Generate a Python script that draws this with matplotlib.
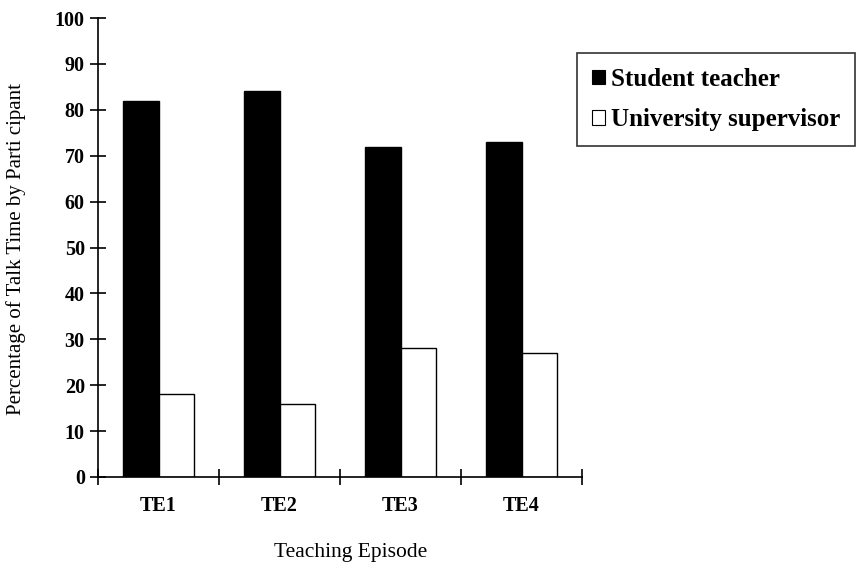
import matplotlib
matplotlib.use("Agg")
import matplotlib.pyplot as plt
from matplotlib.patches import Patch
import numpy as np

categories = ["TE1", "TE2", "TE3", "TE4"]
student_teacher = [82, 84, 72, 73]
university_supervisor = [18, 16, 28, 27]
series_labels = ["Student teacher", "University supervisor"]
y_ticks = [0, 10, 20, 30, 40, 50, 60, 70, 80, 90, 100]

plt.rcParams['font.family'] = ['Liberation Serif', 'DejaVu Serif']

fig = plt.figure(figsize=(8.57, 5.63), dpi=100)
ax = fig.add_axes([98/857, 1-477/563, (582-98)/857, (477-18)/563])

x = np.arange(len(categories))
w = 0.29
ax.bar(x - w/2, student_teacher, width=w, color='black', edgecolor='black', linewidth=1)
ax.bar(x + w/2, university_supervisor, width=w, color='white', edgecolor='black', linewidth=1)

ax.set_xlim(-0.5, len(categories) - 0.5)
ax.set_ylim(0, 100)
ax.spines['top'].set_visible(False)
ax.spines['right'].set_visible(False)
for s in ['left', 'bottom']:
    ax.spines[s].set_linewidth(1.2)

ax.set_yticks(y_ticks)
ax.set_yticklabels([str(v) for v in y_ticks], fontsize=14.5, fontweight='bold')
ax.tick_params(axis='y', direction='inout', length=11, width=1.2, pad=4)

ax.set_xticks(x)
ax.set_xticklabels(categories, fontsize=14.5, fontweight='bold')
ax.tick_params(axis='x', which='major', length=0, pad=14)
ax.set_xticks(np.arange(-0.5, len(categories)), minor=True)
ax.tick_params(axis='x', which='minor', direction='inout', length=12, width=1.2)

ax.set_ylabel("Percentage of Talk Time by Parti cipant", fontsize=15, va='center')
ax.yaxis.set_label_coords((16-98)/484, (477-249)/459)
ax.set_xlabel("Teaching Episode", fontsize=15.5, va='center')
ax.xaxis.set_label_coords((351-98)/484, (477-552)/459)

handles = [Patch(facecolor='black', edgecolor='black', linewidth=0.8),
           Patch(facecolor='white', edgecolor='black', linewidth=0.8)]
leg = fig.legend(handles, series_labels, loc='upper left',
                 bbox_to_anchor=(577/857, 1-145/563, 278/857, 92/563),
                 mode='expand',
                 prop={'family': 'Liberation Serif', 'weight': 'bold', 'size': 18},
                 frameon=True, fancybox=False, handlelength=0.5, handleheight=0.5,
                 handletextpad=0.25, borderpad=0.6, labelspacing=0.7,
                 borderaxespad=0)
leg.get_frame().set_edgecolor('black')
leg.get_frame().set_linewidth(1.2)

fig.savefig("out.png", dpi=100)
